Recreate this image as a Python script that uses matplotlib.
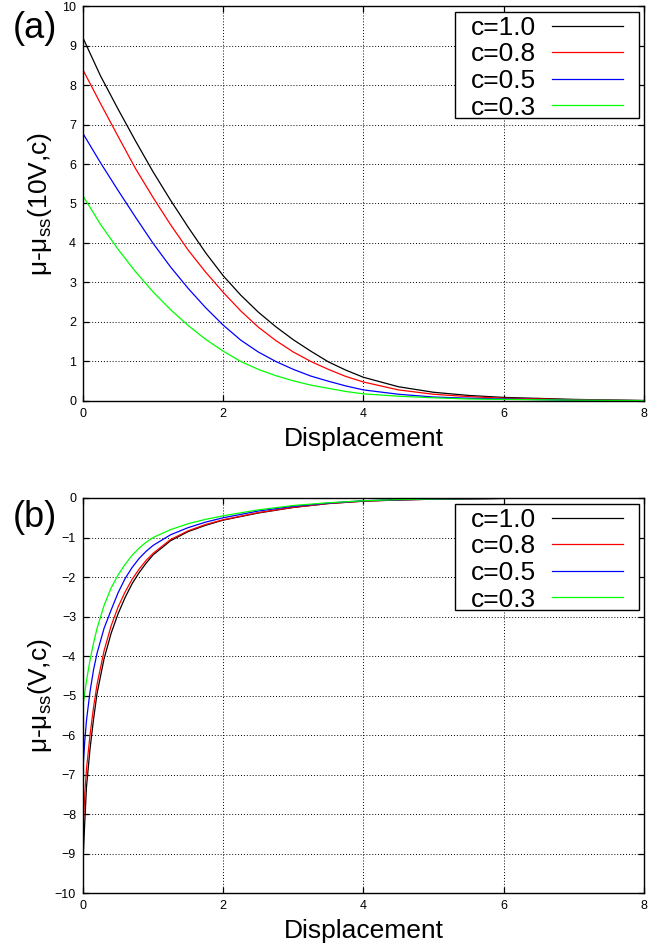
import matplotlib
matplotlib.use("Agg")
import matplotlib.pyplot as plt
from matplotlib.patches import Rectangle

plt.rcParams['font.family'] = ['Liberation Sans', 'DejaVu Sans']
plt.rcParams['mathtext.fontset'] = 'custom'
plt.rcParams['mathtext.rm'] = 'Liberation Sans'
plt.rcParams['mathtext.default'] = 'regular'

# panel (a): mu - mu_ss(10V, c)
x_a = [0, 0.25, 0.5, 0.75, 1.0, 1.25, 1.5, 1.75, 2.0, 2.25, 2.5, 2.75, 3.0,
       3.25, 3.5, 3.75, 4.0, 4.5, 5.0, 5.5, 6.0, 7.0, 8.0]
a_c10 = [9.19, 8.23, 7.39, 6.58, 5.80, 5.08, 4.40, 3.75, 3.17, 2.68, 2.25, 1.88, 1.55,
         1.26, 0.99, 0.78, 0.60, 0.36, 0.22, 0.14, 0.09, 0.04, 0.01]
a_c08 = [8.38, 7.53, 6.70, 5.88, 5.15, 4.46, 3.82, 3.26, 2.75, 2.28, 1.87, 1.53, 1.24,
         1.00, 0.80, 0.62, 0.48, 0.28, 0.17, 0.11, 0.07, 0.03, 0.01]
a_c05 = [6.77, 6.03, 5.33, 4.65, 3.99, 3.39, 2.85, 2.36, 1.92, 1.54, 1.24, 1.00, 0.80,
         0.63, 0.50, 0.38, 0.28, 0.17, 0.10, 0.07, 0.05, 0.02, 0.01]
a_c03 = [5.19, 4.47, 3.84, 3.27, 2.76, 2.31, 1.91, 1.56, 1.26, 1.00, 0.80, 0.64, 0.51,
         0.40, 0.32, 0.24, 0.18, 0.12, 0.08, 0.05, 0.04, 0.02, 0.01]

# panel (b): mu - mu_ss(V, c)
x_b = [0, 0.025, 0.05, 0.1, 0.15, 0.2, 0.3, 0.4, 0.5, 0.6, 0.7, 0.8, 0.9, 1.0,
       1.25, 1.5, 1.75, 2.0, 2.5, 3.0, 3.5, 4.0, 4.5, 5.0, 6.0, 7.0, 8.0]
b_c10 = [-9.2, -8.2, -7.3, -6.35, -5.6, -4.95, -4.07, -3.43, -2.93, -2.52, -2.17, -1.89,
         -1.65, -1.44, -1.08, -0.85, -0.69, -0.56, -0.38, -0.24, -0.14, -0.08, -0.05,
         -0.03, -0.01, -0.003, 0.0]
b_c08 = [-8.4, -7.5, -6.85, -6.0, -5.3, -4.72, -3.87, -3.24, -2.76, -2.38, -2.06, -1.80,
         -1.58, -1.40, -1.05, -0.83, -0.67, -0.55, -0.37, -0.235, -0.14, -0.08, -0.05,
         -0.03, -0.01, -0.003, 0.0]
b_c05 = [-6.84, -6.15, -5.62, -4.90, -4.35, -3.93, -3.30, -2.84, -2.40, -2.04, -1.76, -1.53,
         -1.35, -1.20, -0.93, -0.75, -0.61, -0.50, -0.33, -0.21, -0.13, -0.07, -0.045,
         -0.027, -0.01, -0.003, 0.0]
b_c03 = [-5.24, -4.92, -4.62, -4.10, -3.67, -3.30, -2.72, -2.28, -1.95, -1.68, -1.45, -1.27,
         -1.12, -1.00, -0.80, -0.65, -0.54, -0.45, -0.30, -0.19, -0.12, -0.07, -0.04,
         -0.025, -0.01, -0.003, 0.0]

labels = ['c=1.0', 'c=0.8', 'c=0.5', 'c=0.3']
line_colors = ['black', '#ff0000', '#0000ff', '#00ff00']

fig = plt.figure(figsize=(6.61, 9.43), dpi=100)
ax_a = fig.add_axes([0.1256, 0.5748, 0.8484, 0.4188])
ax_b = fig.add_axes([0.1256, 0.0530, 0.8484, 0.4189])


def style_axes(ax, ylim, ylabel):
    ax.set_xlim(0, 8)
    ax.set_ylim(*ylim)
    ax.set_xticks([0, 2, 4, 6, 8])
    ax.set_yticks(range(int(ylim[0]), int(ylim[1]) + 1))
    ax.tick_params(direction='in', top=True, right=True, length=4.5, width=0.9,
                   labelsize=9, pad=5)
    ax.grid(True, color='black', linewidth=0.7, linestyle=(0, (1, 2)))
    for sp in ax.spines.values():
        sp.set_linewidth(1.0)
    ax.set_xlabel('Displacement', fontsize=19, labelpad=5)
    ax.set_ylabel(ylabel, fontsize=19)
    ax.yaxis.set_label_coords(-0.052, 0.5)
    # gnuplot style key: text first, sample after, square box
    leg = ax.legend(loc='upper right', bbox_to_anchor=(0.968, 0.982), fontsize=19,
                    markerfirst=False, frameon=False, handlelength=2.7,
                    handletextpad=0.6, labelspacing=0.1, borderpad=0.1,
                    borderaxespad=0.0)
    return leg


for ys, lab, col in zip([a_c10, a_c08, a_c05, a_c03], labels, line_colors):
    ax_a.plot(x_a, ys, color=col, linewidth=0.9, label=lab)
leg_a = style_axes(ax_a, (0, 10), r'μ-μ$_{ss}$(10V,c)')

for ys, lab, col in zip([b_c10, b_c08, b_c05, b_c03], labels, line_colors):
    ax_b.plot(x_b, ys, color=col, linewidth=0.9, label=lab)
leg_b = style_axes(ax_b, (-10, 0), r'μ-μ$_{ss}$(V,c)')

fig.text(0.053, 0.970, '(a)', fontsize=26, ha='center', va='center')
fig.text(0.053, 0.4507, '(b)', fontsize=26, ha='center', va='center')

# draw the key box a bit wider than the legend contents
fig.canvas.draw()
for ax, leg in [(ax_a, leg_a), (ax_b, leg_b)]:
    bb = leg.get_window_extent()
    (x0, y0), (x1, y1) = ax.transAxes.inverted().transform(
        [(bb.x0 - 13, bb.y0 + 4), (bb.x1 + 13, bb.y1 + 1)])
    ax.add_patch(Rectangle((x0, y0), x1 - x0, y1 - y0, transform=ax.transAxes,
                           facecolor='white', edgecolor='black', linewidth=1.0,
                           zorder=4.5))
    leg.set_zorder(5)

fig.savefig('out.png', dpi=100)
